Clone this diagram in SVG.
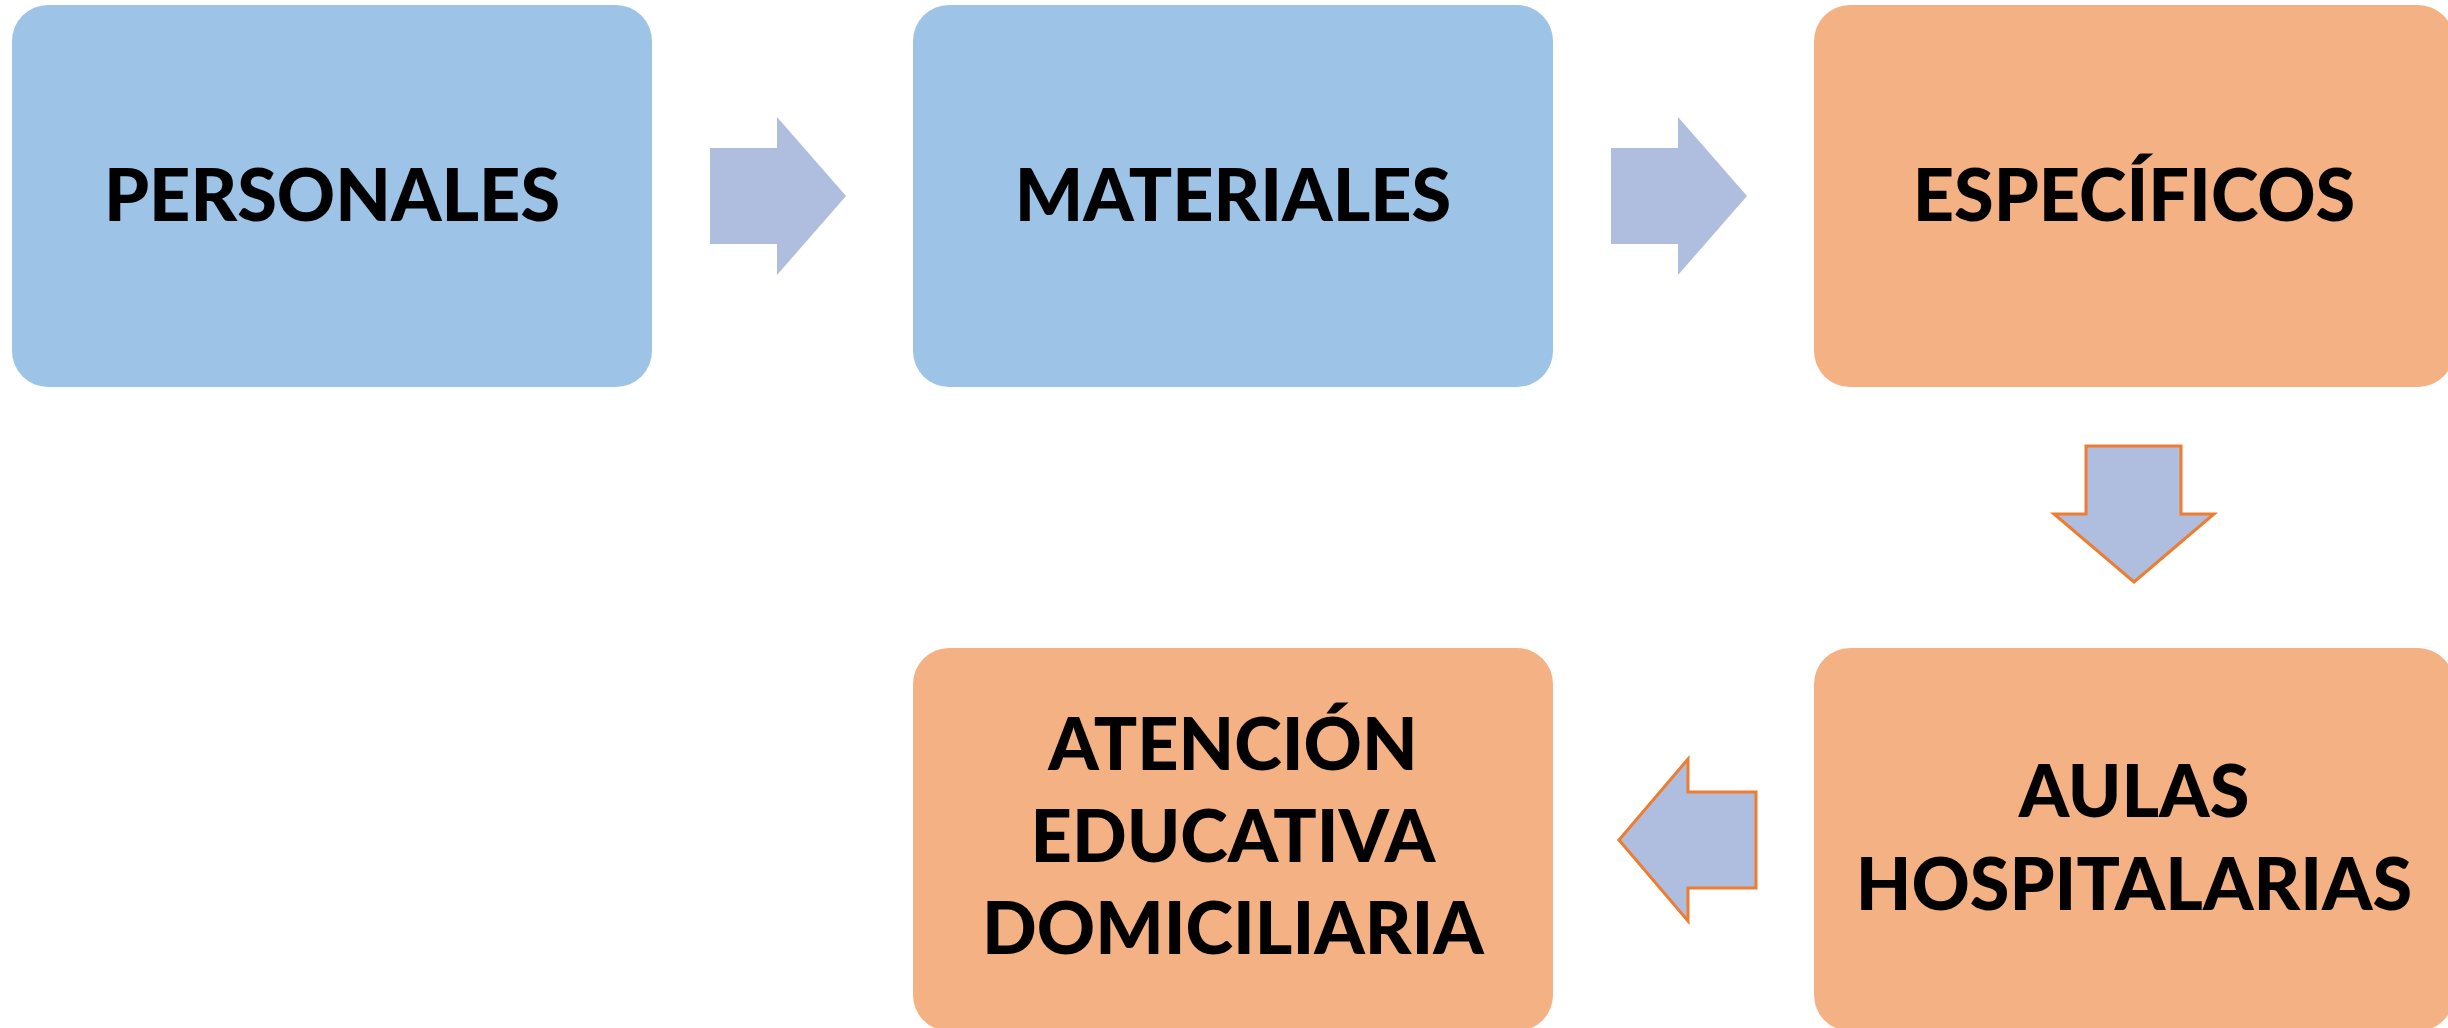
<svg xmlns="http://www.w3.org/2000/svg" width="2448" height="1028" viewBox="0 0 2448 1028">
<style>
.blue{fill:#9DC3E6}
.orange{fill:#F4B183}
.lbl{font-family:Lato,"Open Sans","Liberation Sans",sans-serif;font-weight:900;font-size:72px;fill:#000;text-anchor:middle}
.arr{fill:#AFBDDF}
.arro{fill:#AFBDDF;stroke:#ED7D31;stroke-width:3;stroke-linejoin:miter}
</style>
<rect width="2448" height="1028" fill="#fff"/>
<g id="connectors">
<polygon class="arr" points="710,148 777,148 777,117 846,196 777,275 777,244 710,244"/>
<polygon class="arr" points="1611,148 1678,148 1678,117 1747,196 1678,275 1678,244 1611,244"/>
<polygon class="arro" points="2086,446 2181,446 2181,514 2214,514 2134,582 2054,514 2086,514"/>
<polygon class="arro" points="1756,792 1756,888 1688,888 1688,921 1619,840 1688,759 1688,792"/>
</g>
<g id="personales">
<rect class="blue" x="12" y="5" width="640" height="382" rx="36"/>
<text class="lbl" x="332" y="221">PERSONALES</text>
</g>
<g id="materiales">
<rect class="blue" x="913" y="5" width="640" height="382" rx="36"/>
<text class="lbl" x="1233" y="221">MATERIALES</text>
</g>
<g id="especificos">
<rect class="orange" x="1814" y="5" width="640" height="382" rx="36"/>
<text class="lbl" x="2134" y="221">ESPECÍFICOS</text>
</g>
<g id="aulas">
<rect class="orange" x="1814" y="648" width="640" height="383" rx="36"/>
<text class="lbl" x="2134" y="817">AULAS</text>
<text class="lbl" x="2134" y="910">HOSPITALARIAS</text>
</g>
<g id="atencion">
<rect class="orange" x="913" y="648" width="640" height="383" rx="36"/>
<text class="lbl" x="1233" y="770">ATENCIÓN</text>
<text class="lbl" x="1233" y="862">EDUCATIVA</text>
<text class="lbl" x="1233" y="954">DOMICILIARIA</text>
</g>
</svg>
